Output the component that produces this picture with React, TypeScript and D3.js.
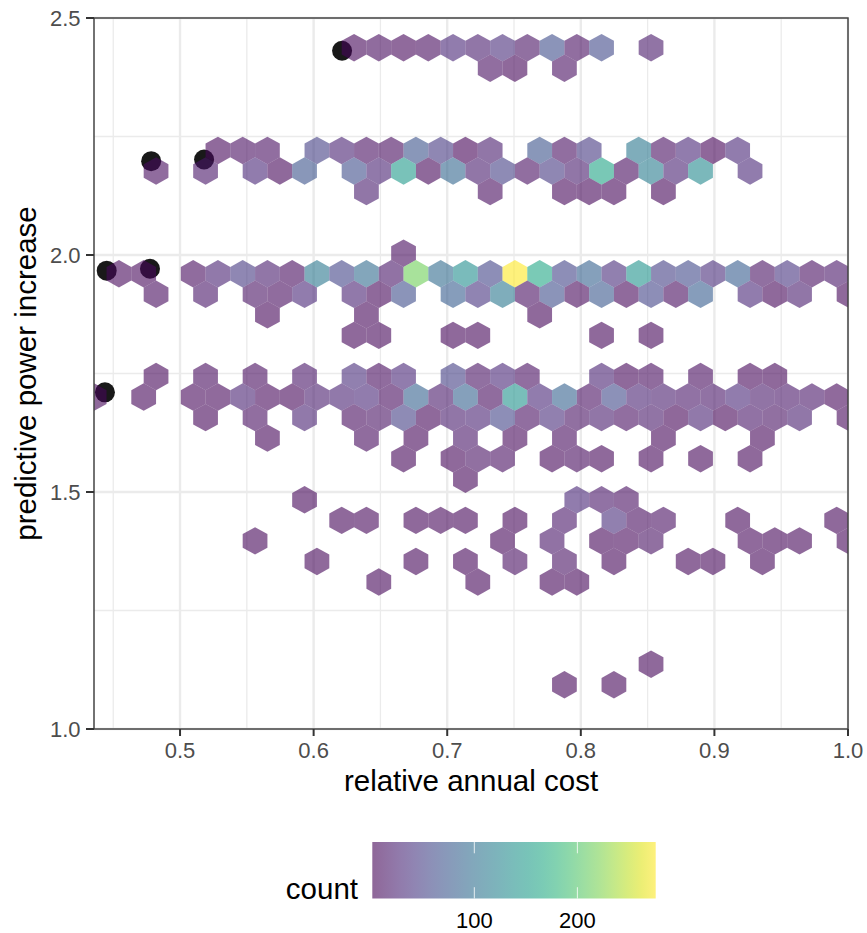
import React from "react";
import * as d3 from "d3";

const W = 867;
const H = 933;
const panel = { left: 94, right: 848, top: 18, bottom: 729 };

// axis domains and ticks
const xDomain = [0.4356, 1.0];
const yDomain = [1.0, 2.5];
const xMajor = [0.5, 0.6, 0.7, 0.8, 0.9, 1.0];
const xMinor = [0.45, 0.55, 0.65, 0.75, 0.85, 0.95];
const yMajor = [1.0, 1.5, 2.0, 2.5];
const yMinor = [1.25, 1.75, 2.25];

// hexagon lattice, in data units
const binX0 = 0.445;
const binW = 0.018526;
const binY0 = 2.4373;
const binH = 0.043354;

// each row: [lattice row, [column, count], ...]
type Row = [number, [number, number][]];
const hexRows: Row[] = [
  [0, [[10, 5], [11, 8], [12, 6], [13, 8], [14, 30], [15, 20], [16, 35], [17, 12], [18, 65], [19, 10], [20, 60], [22, 18]]],
  [1, [[15, 10], [16, 5], [18, 10]]],
  [5, [[4, 6], [5, 10], [6, 10], [8, 50], [9, 25], [10, 10], [11, 8], [12, 70], [13, 45], [14, 3], [15, 20], [17, 70], [18, 10], [19, 45], [21, 110], [22, 10], [23, 30], [24, 3], [25, 30]]],
  [6, [[2, 8], [4, 15], [6, 30], [7, 5], [8, 70], [10, 65], [11, 25], [12, 150], [13, 5], [14, 90], [15, 20], [16, 50], [17, 10], [18, 45], [19, 20], [20, 160], [21, 8], [22, 115], [23, 25], [24, 130], [26, 30]]],
  [7, [[10, 20], [15, 8], [18, 6], [19, 5], [20, 5], [22, 5]]],
  [10, [[12, 8]]],
  [11, [[0, 6], [1, 6], [3, 8], [4, 25], [5, 45], [6, 20], [7, 8], [8, 110], [9, 55], [10, 95], [11, 15], [12, 215], [13, 95], [14, 135], [15, 55], [16, 276], [17, 165], [18, 55], [19, 85], [20, 35], [21, 140], [22, 50], [23, 60], [24, 35], [25, 80], [26, 12], [27, 40], [28, 10], [29, 15]]],
  [12, [[2, 8], [4, 15], [6, 12], [7, 8], [8, 30], [10, 25], [11, 5], [12, 65], [14, 80], [15, 40], [16, 110], [17, 10], [18, 65], [19, 6], [20, 75], [21, 6], [22, 55], [23, 8], [24, 80], [26, 30], [27, 5], [28, 20], [30, 5]]],
  [13, [[6, 5], [10, 5], [17, 5]]],
  [14, [[10, 5], [11, 5], [14, 5], [15, 5], [20, 5], [22, 5]]],
  [16, [[2, 5], [4, 8], [6, 8], [8, 15], [10, 35], [11, 8], [12, 30], [14, 50], [15, 12], [16, 30], [17, 10], [20, 25], [21, 5], [22, 8], [24, 8], [26, 6], [27, 5]]],
  [17, [[-1, 5], [1, 5], [3, 6], [4, 6], [5, 25], [6, 6], [7, 5], [8, 20], [9, 25], [10, 30], [11, 8], [12, 85], [13, 18], [14, 85], [15, 8], [16, 140], [17, 30], [18, 85], [19, 10], [20, 60], [21, 25], [22, 20], [23, 15], [24, 15], [25, 30], [26, 18], [27, 15], [28, 15], [29, 6]]],
  [18, [[4, 5], [6, 10], [8, 25], [10, 8], [11, 12], [12, 50], [13, 5], [14, 20], [15, 25], [16, 55], [17, 10], [18, 35], [19, 12], [20, 20], [21, 10], [22, 18], [23, 4], [24, 25], [25, 4], [26, 15], [27, 12], [28, 22], [30, 6]]],
  [19, [[6, 5], [10, 8], [12, 5], [14, 15], [16, 6], [18, 8], [22, 5], [26, 5]]],
  [20, [[12, 5], [14, 5], [15, 12], [16, 10], [18, 5], [19, 8], [20, 5], [22, 5], [24, 5], [26, 5]]],
  [21, [[14, 5]]],
  [22, [[8, 5], [19, 30], [20, 15], [21, 10]]],
  [23, [[9, 5], [10, 6], [12, 5], [13, 6], [14, 5], [16, 5], [18, 15], [20, 35], [21, 8], [22, 10], [25, 5], [29, 5]]],
  [24, [[6, 5], [16, 5], [18, 15], [20, 5], [21, 6], [22, 12], [26, 6], [27, 5], [28, 5], [30, 5]]],
  [25, [[8, 5], [12, 5], [14, 5], [16, 10], [18, 12], [20, 5], [23, 5], [24, 5], [26, 5]]],
  [26, [[11, 5], [15, 5], [18, 5], [19, 5]]],
  [30, [[22, 5]]],
  [31, [[18, 5], [20, 5]]],
];

// black points: relative annual cost, predictive power increase
const pointX = [0.6213, 0.4784, 0.5180, 0.4451, 0.4775, 0.4438];
const pointY = [2.4309, 2.1979, 2.2015, 1.9669, 1.9711, 1.7103];

// legend
const countDomain = [1, 276];
const legendTicks = [100, 200];

const x = d3.scaleLinear().domain(xDomain).range([panel.left, panel.right]);
const y = d3.scaleLinear().domain(yDomain).range([panel.bottom, panel.top]);
const countT = d3.scaleLinear().domain(countDomain).range([0, 1]);
const legendX = d3.scaleLinear().domain(countDomain).range([372.3, 655.7]);
const colour = (c: number) => d3.interpolateViridis(countT(c));

const hexPath = d3.line<[number, number]>().x((d) => x(d[0])).y((d) => y(d[1])).curve(d3.curveLinearClosed);

function hexagon(cx: number, cy: number) {
  const dx = binW / 2;
  const dy = binH / 1.5;
  return hexPath([
    [cx, cy + dy],
    [cx + dx, cy + dy / 2],
    [cx + dx, cy - dy / 2],
    [cx, cy - dy],
    [cx - dx, cy - dy / 2],
    [cx - dx, cy + dy / 2],
  ]) as string;
}

const cells = hexRows.flatMap(([row, items]) =>
  items.map(([col, count]) => ({
    cx: binX0 + (col + (row % 2 ? 0.5 : 0)) * binW,
    cy: binY0 - row * binH,
    count,
    key: `${row}-${col}`,
  }))
);

const FONT = "'Liberation Sans', Arial, sans-serif";
const gridCol = "#EBEBEB";
const tickCol = "#4D4D4D";
const stops = d3.range(0, 21).map((i) => i / 20);

export default function App() {
  return (
    <svg
      width={W}
      height={H}
      viewBox={`0 0 ${W} ${H}`}
      style={{ position: "absolute", left: 0, top: 0, background: "#fff" }}
      fontFamily={FONT}
    >
      <defs>
        <clipPath id="panel">
          <rect x={panel.left} y={panel.top} width={panel.right - panel.left} height={panel.bottom - panel.top} />
        </clipPath>
        <linearGradient id="legend" x1="0" x2="1" y1="0" y2="0">
          {stops.map((t) => (
            <stop key={t} offset={t} stopColor={d3.interpolateViridis(t)} />
          ))}
        </linearGradient>
      </defs>

      {xMinor.map((v) => (
        <line key={v} x1={x(v)} x2={x(v)} y1={panel.top} y2={panel.bottom} stroke={gridCol} strokeWidth={1.3} />
      ))}
      {yMinor.map((v) => (
        <line key={v} x1={panel.left} x2={panel.right} y1={y(v)} y2={y(v)} stroke={gridCol} strokeWidth={1.3} />
      ))}
      {xMajor.map((v) => (
        <line key={v} x1={x(v)} x2={x(v)} y1={panel.top} y2={panel.bottom} stroke={gridCol} strokeWidth={2.4} />
      ))}
      {yMajor.map((v) => (
        <line key={v} x1={panel.left} x2={panel.right} y1={y(v)} y2={y(v)} stroke={gridCol} strokeWidth={2.4} />
      ))}

      <g clipPath="url(#panel)">
        {pointX.map((px, i) => (
          <circle key={i} cx={x(px)} cy={y(pointY[i])} r={10} fill="#000" fillOpacity={0.9} />
        ))}
        {cells.map((c) => (
          <path key={c.key} d={hexagon(c.cx, c.cy)} fill={colour(c.count)} fillOpacity={0.6} />
        ))}
      </g>

      <rect
        x={panel.left}
        y={panel.top}
        width={panel.right - panel.left}
        height={panel.bottom - panel.top}
        fill="none"
        stroke="#444"
        strokeWidth={1.5}
      />

      {xMajor.map((v) => (
        <g key={v}>
          <line x1={x(v)} x2={x(v)} y1={panel.bottom} y2={panel.bottom + 7} stroke="#333" strokeWidth={2} />
          <text x={x(v)} y={758} textAnchor="middle" fontSize={22} fill={tickCol}>
            {v.toFixed(1)}
          </text>
        </g>
      ))}
      {yMajor.map((v) => (
        <g key={v}>
          <line x1={panel.left - 8} x2={panel.left} y1={y(v)} y2={y(v)} stroke="#333" strokeWidth={2} />
          <text x={80.5} y={y(v) + 8} textAnchor="end" fontSize={22} fill={tickCol}>
            {v.toFixed(1)}
          </text>
        </g>
      ))}

      <text x={471} y={791} textAnchor="middle" fontSize={29.5} fill="#000">
        relative annual cost
      </text>
      <text transform="translate(36,373.5) rotate(-90)" textAnchor="middle" fontSize={29.5} fill="#000">
        predictive power increase
      </text>

      <text x={358} y={899} textAnchor="end" fontSize={29.5} fill="#000">
        count
      </text>
      <rect x={372.3} y={842} width={283.4} height={56.5} fill="url(#legend)" fillOpacity={0.6} />
      {legendTicks.map((v) => (
        <g key={v}>
          <line x1={legendX(v)} x2={legendX(v)} y1={842} y2={853.3} stroke="#fff" strokeOpacity={0.8} strokeWidth={1} />
          <line x1={legendX(v)} x2={legendX(v)} y1={887.2} y2={898.5} stroke="#fff" strokeOpacity={0.8} strokeWidth={1} />
          <text x={legendX(v)} y={928} textAnchor="middle" fontSize={22} fill="#000">
            {v}
          </text>
        </g>
      ))}
    </svg>
  );
}
